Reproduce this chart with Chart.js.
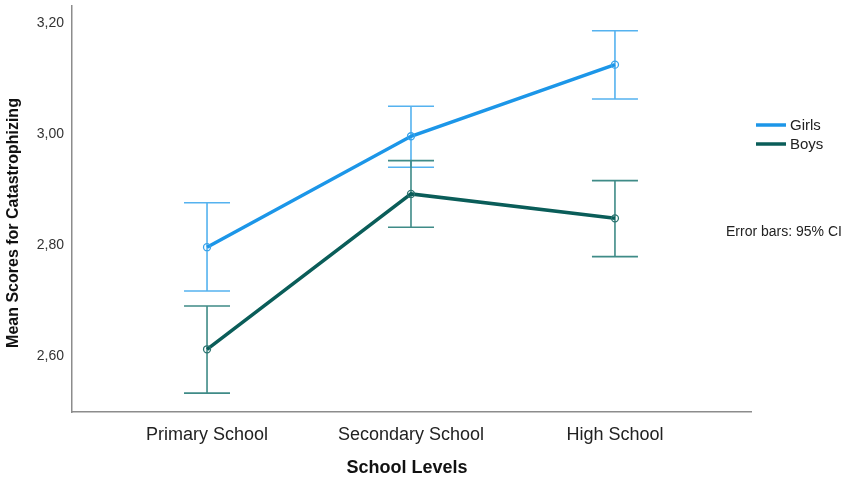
<!DOCTYPE html>
<html>
<head>
<meta charset="utf-8">
<title>Mean Scores for Catastrophizing by School Level</title>
<script src="https://cdn.jsdelivr.net/npm/chart.js@4.4.1/dist/chart.umd.min.js"></script>
<style>
  html, body { margin: 0; padding: 0; background: #ffffff; }
  #wrap { width: 857px; height: 480px; position: relative; }
</style>
</head>
<body>
<div id="wrap"><canvas id="chart" width="857" height="480"></canvas></div>
<script>
// School levels on the horizontal axis
const schoolLevels = ['Primary School', 'Secondary School', 'High School'];

// Girls: group means and 95% confidence limits
const girlsMean = [2.797, 2.997, 3.126];
const girlsLower = [2.718, 2.941, 3.064];
const girlsUpper = [2.877, 3.051, 3.187];

// Boys: group means and 95% confidence limits
const boysMean = [2.613, 2.893, 2.849];
const boysLower = [2.534, 2.833, 2.780];
const boysUpper = [2.691, 2.953, 2.917];

// Labelled ticks on the value axis
const yTickValues = [2.60, 2.80, 3.00, 3.20];

const FONT = "'Liberation Sans', Arial, Helvetica, sans-serif";
const GIRLS_LINE = '#1c96e8';
const GIRLS_BAR = '#55b2ef';
const BOYS_LINE = '#0a5d59';
const BOYS_BAR = '#3f8b87';

const toPoints = (values) => values.map((v, i) => ({ x: i, y: v }));

// Vertical 95% CI bars with end caps, placed through the chart's scales
const errorBars = {
  id: 'errorBars',
  beforeDatasetsDraw(chart) {
    const { ctx, scales: { x, y } } = chart;
    const groups = [
      { lower: girlsLower, upper: girlsUpper, color: GIRLS_BAR },
      { lower: boysLower, upper: boysUpper, color: BOYS_BAR }
    ];
    const cap = 23;
    ctx.save();
    ctx.lineWidth = 1.6;
    groups.forEach(g => {
      ctx.strokeStyle = g.color;
      g.lower.forEach((lo, i) => {
        const px = x.getPixelForValue(i);
        const yLo = y.getPixelForValue(lo);
        const yHi = y.getPixelForValue(g.upper[i]);
        ctx.beginPath();
        ctx.moveTo(px, yLo); ctx.lineTo(px, yHi);
        ctx.moveTo(px - cap, yLo); ctx.lineTo(px + cap, yLo);
        ctx.moveTo(px - cap, yHi); ctx.lineTo(px + cap, yHi);
        ctx.stroke();
      });
    });
    ctx.restore();
  }
};

// Axis titles, legend and the error-bar note
const annotations = {
  id: 'annotations',
  afterDraw(chart) {
    const { ctx } = chart;
    ctx.save();
    ctx.fillStyle = '#111111';
    ctx.textBaseline = 'middle';

    // value axis title
    ctx.save();
    ctx.translate(14, 223);
    ctx.rotate(-Math.PI / 2);
    ctx.textAlign = 'center';
    ctx.font = 'bold 16px ' + FONT;
    ctx.fillText('Mean Scores for Catastrophizing', 0, 0);
    ctx.restore();

    // category axis title
    ctx.textAlign = 'center';
    ctx.font = 'bold 18px ' + FONT;
    ctx.fillText('School Levels', 407, 468);

    // legend
    const items = [
      { label: 'Girls', color: GIRLS_LINE, y: 125 },
      { label: 'Boys', color: BOYS_LINE, y: 144 }
    ];
    ctx.textAlign = 'left';
    ctx.font = '15px ' + FONT;
    items.forEach(it => {
      ctx.strokeStyle = it.color;
      ctx.lineWidth = 3.5;
      ctx.beginPath();
      ctx.moveTo(756, it.y);
      ctx.lineTo(786, it.y);
      ctx.stroke();
      ctx.fillStyle = '#222222';
      ctx.fillText(it.label, 790, it.y + 1);
    });

    // note
    ctx.font = '14px ' + FONT;
    ctx.fillStyle = '#222222';
    ctx.fillText('Error bars: 95% CI', 726, 232);
    ctx.restore();
  }
};

new Chart(document.getElementById('chart'), {
  type: 'line',
  data: {
    datasets: [
      {
        label: 'Girls',
        data: toPoints(girlsMean),
        borderColor: GIRLS_LINE,
        borderWidth: 3.5,
        pointRadius: 3.5,
        pointBorderWidth: 1.3,
        pointBorderColor: '#3aa3ea',
        pointBackgroundColor: 'rgba(255,255,255,0)',
        tension: 0
      },
      {
        label: 'Boys',
        data: toPoints(boysMean),
        borderColor: BOYS_LINE,
        borderWidth: 3.5,
        pointRadius: 3.5,
        pointBorderWidth: 1.3,
        pointBorderColor: '#2c7470',
        pointBackgroundColor: 'rgba(255,255,255,0)',
        tension: 0
      }
    ]
  },
  options: {
    responsive: false,
    animation: false,
    devicePixelRatio: 1,
    layout: { padding: { top: 0, right: 106, left: 0, bottom: 0 } },
    plugins: {
      legend: { display: false },
      tooltip: { enabled: false }
    },
    scales: {
      x: {
        type: 'linear',
        min: -0.662,
        max: 2.667,
        grid: { display: false, drawTicks: false },
        border: { display: true, color: '#8c8c8c', width: 1.5 },
        afterBuildTicks(scale) {
          scale.ticks = schoolLevels.map((_, i) => ({ value: i }));
        },
        afterFit(scale) {
          scale.height = 68;
          scale.paddingLeft = 0;
          scale.paddingRight = 0;
        },
        ticks: {
          autoSkip: false,
          maxRotation: 0,
          padding: 12,
          color: '#222222',
          font: { family: FONT, size: 18 },
          callback: (v) => schoolLevels[v] ?? ''
        }
      },
      y: {
        min: 2.5,
        max: 3.233,
        grid: { display: false, drawTicks: false },
        border: { display: true, color: '#8c8c8c', width: 1.5 },
        afterBuildTicks(scale) {
          scale.ticks = yTickValues.map(v => ({ value: v }));
        },
        afterFit(scale) {
          scale.width = 72;
          scale.paddingTop = 0;
          scale.paddingBottom = 0;
        },
        ticks: {
          padding: 8,
          color: '#333333',
          font: { family: FONT, size: 14 },
          callback: (v) => v.toFixed(2).replace('.', ',')
        }
      }
    }
  },
  plugins: [errorBars, annotations]
});
</script>
</body>
</html>
